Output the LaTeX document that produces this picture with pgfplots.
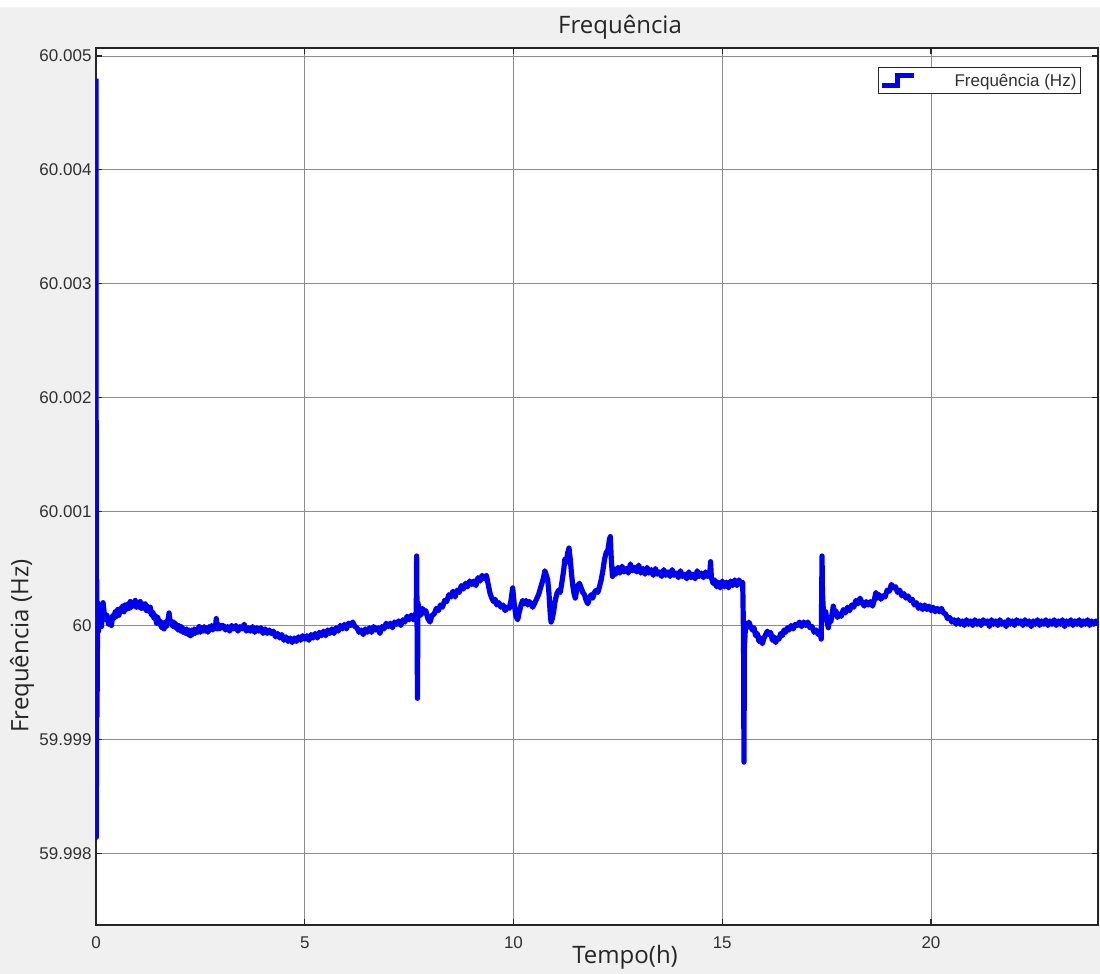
\documentclass[border=0pt]{standalone}
\usepackage{fontspec}
\setmainfont{Liberation Sans}
\newfontfamily\labelfont{Open Sans}
\usepackage{pgfplots}
\pgfplotsset{compat=1.18}

\definecolor{figbg}{HTML}{F0F0F0}
\definecolor{ticktext}{HTML}{303030}
\definecolor{gridgray}{HTML}{8C8C8C}
\definecolor{framecol}{HTML}{262626}
\definecolor{tracecol}{RGB}{0,0,240}

\begin{document}
\begin{tikzpicture}[x=1pt,y=1pt]
\useasboundingbox (0,0) rectangle (1100,974);
\fill[figbg] (0,0) rectangle (1100,974);
\fill[white] (0,967) rectangle (1100,974);
\begin{axis}[
  at={(96pt,49pt)}, anchor=south west,
  width=1002pt, height=877pt, scale only axis,
  xmin=0, xmax=24, ymin=-2.63, ymax=5.07,
  xtick={0,5,10,15,20},
  ytick={-2,-1,0,1,2,3,4,5},
  yticklabels={59.998,59.999,60,60.001,60.002,60.003,60.004,60.005},
  /pgf/number format/assume math mode=true,
  grid=major,
  major grid style={gridgray, line width=0.9pt},
  axis line style={framecol, line width=1.6pt},
  tick style={framecol, line width=1.2pt},
  tick align=inside, major tick length=6pt,
  axis background/.style={fill=white},
  tick label style={font=\fontsize{17}{19}\selectfont, text=ticktext},
  xticklabel style={yshift=-8pt},
  yticklabel style={xshift=-1pt},
  title={\labelfont Frequência},
  title style={at={(axis description cs:0.523,1.017)}, anchor=center,
    font=\fontsize{24}{28}\selectfont, text=framecol},
  xlabel={\labelfont Tempo(h)},
  xlabel style={at={(axis description cs:0.528,-0.037)}, anchor=center,
    font=\fontsize{24}{28}\selectfont, text=framecol},
  ylabel={\labelfont Frequência (Hz)},
  ylabel style={at={(axis description cs:-0.0739,0.318)}, anchor=center,
    font=\fontsize{24}{28}\selectfont, text=framecol},
  legend style={at={(0.983,0.978)}, anchor=north east, draw=framecol,
    line width=1pt, fill=white, font=\fontsize{17}{19}\selectfont,
    text=ticktext, inner xsep=2pt, inner ysep=4pt, nodes={inner sep=2pt}},
  legend cell align=left,
  legend image code/.code={
    \draw[tracecol, line width=4.5pt, line join=miter]
      (0pt,-5pt) -- (15pt,-5pt) -- (15pt,5pt) -- (32pt,5pt);},
]
% Frequency over one day: time in hours, deviation from 60 Hz in mHz
\addplot[tracecol, line width=5.2pt, line join=round] coordinates {
(0.000,4.80) (0.008,-1.86) (0.016,0.40) (0.024,-0.80) (0.040,0.20) (0.060,-0.05) (0.080,0.10)
(0.10,0.05) (0.13,-0.01) (0.17,0.20) (0.20,0.10) (0.23,0.05) (0.26,0.09) (0.30,0.01) (0.34,0.04)
(0.37,0.00) (0.40,0.09) (0.43,0.06) (0.46,0.12) (0.49,0.08) (0.52,0.14) (0.55,0.09) (0.58,0.15)
(0.61,0.12) (0.64,0.17) (0.67,0.12) (0.70,0.18) (0.73,0.14) (0.76,0.19) (0.79,0.15) (0.82,0.21)
(0.85,0.16) (0.88,0.20) (0.91,0.17) (0.94,0.22) (0.97,0.16) (1.00,0.20) (1.03,0.16) (1.06,0.21)
(1.09,0.15) (1.12,0.19) (1.15,0.15) (1.18,0.19) (1.21,0.13) (1.24,0.17) (1.27,0.12) (1.30,0.16)
(1.33,0.09) (1.36,0.12) (1.39,0.06) (1.42,0.09) (1.45,0.02) (1.48,0.07) (1.51,0.01) (1.54,0.04)
(1.57,-0.02) (1.60,0.01) (1.63,-0.03) (1.66,0.03) (1.69,-0.01) (1.72,0.04) (1.75,0.11) (1.78,0.02)
(1.81,0.04) (1.84,-0.01) (1.87,0.03) (1.90,-0.02) (1.93,0.01) (1.96,-0.04) (1.99,0.00) (2.02,-0.05)
(2.05,-0.01) (2.08,-0.06) (2.11,-0.03) (2.14,-0.07) (2.17,-0.03) (2.20,-0.08) (2.23,-0.04) (2.26,-0.09)
(2.29,-0.04) (2.32,-0.08) (2.35,-0.03) (2.38,-0.07) (2.41,-0.03) (2.44,-0.06) (2.47,-0.01) (2.50,-0.06)
(2.53,-0.02) (2.56,-0.05) (2.59,-0.01) (2.62,-0.05) (2.65,-0.02) (2.68,-0.06) (2.71,-0.01) (2.74,-0.04)
(2.77,0.00) (2.80,-0.04) (2.83,0.00) (2.86,-0.02) (2.88,0.06) (2.91,-0.03) (2.94,0.01) (2.97,-0.03)
(3.00,0.00) (3.05,0.00) (3.10,-0.04) (3.15,-0.01) (3.20,-0.05) (3.25,0.00) (3.30,-0.03) (3.35,0.00)
(3.40,-0.05) (3.45,-0.01) (3.50,-0.03) (3.55,0.01) (3.60,-0.05) (3.65,-0.02) (3.70,-0.05) (3.75,-0.01)
(3.80,-0.06) (3.85,-0.02) (3.90,-0.05) (3.95,-0.02) (4.00,-0.07) (4.05,-0.03) (4.10,-0.07) (4.15,-0.04)
(4.20,-0.07) (4.25,-0.05) (4.30,-0.10) (4.35,-0.07) (4.40,-0.11) (4.45,-0.08) (4.50,-0.13) (4.55,-0.10)
(4.60,-0.14) (4.65,-0.11) (4.70,-0.15) (4.75,-0.11) (4.80,-0.14) (4.85,-0.10) (4.90,-0.13) (4.95,-0.09)
(5.00,-0.12) (5.05,-0.09) (5.10,-0.13) (5.15,-0.08) (5.20,-0.11) (5.25,-0.07) (5.30,-0.11) (5.35,-0.06)
(5.40,-0.09) (5.45,-0.05) (5.50,-0.09) (5.55,-0.04) (5.60,-0.07) (5.65,-0.03) (5.70,-0.07) (5.75,-0.02)
(5.80,-0.05) (5.85,0.00) (5.90,-0.03) (5.95,0.01) (6.00,-0.03) (6.05,0.02) (6.10,0.00) (6.15,0.03)
(6.20,-0.01) (6.25,-0.02) (6.30,-0.06) (6.35,-0.04) (6.40,-0.08) (6.45,-0.03) (6.50,-0.06) (6.55,-0.02)
(6.60,-0.06) (6.65,-0.01) (6.70,-0.04) (6.75,-0.02) (6.80,-0.07) (6.85,-0.01) (6.90,-0.03) (6.95,0.02)
(7.00,-0.01) (7.05,0.02) (7.10,-0.02) (7.15,0.03) (7.20,0.01) (7.25,0.04) (7.30,0.00) (7.35,0.05)
(7.40,0.03) (7.45,0.08) (7.50,0.05) (7.55,0.09) (7.60,0.05) (7.64,0.10) (7.67,0.08) (7.68,0.61)
(7.69,0.05) (7.70,-0.64) (7.71,0.20) (7.74,0.13) (7.78,0.09) (7.82,0.15) (7.86,0.11) (7.90,0.13)
(7.95,0.06) (8.00,0.03) (8.05,0.09) (8.10,0.10) (8.15,0.15) (8.20,0.13) (8.25,0.18) (8.30,0.16)
(8.35,0.22) (8.40,0.21) (8.45,0.27) (8.50,0.25) (8.55,0.30) (8.60,0.25) (8.65,0.31) (8.70,0.29)
(8.75,0.35) (8.80,0.32) (8.85,0.37) (8.90,0.34) (8.95,0.39) (9.00,0.36) (9.05,0.39) (9.10,0.35)
(9.15,0.42) (9.20,0.39) (9.25,0.44) (9.30,0.41) (9.35,0.44) (9.40,0.35) (9.44,0.28) (9.48,0.24)
(9.52,0.21) (9.56,0.23) (9.60,0.18) (9.65,0.20) (9.70,0.16) (9.75,0.18) (9.80,0.13) (9.85,0.16)
(9.90,0.15) (9.94,0.22) (9.98,0.33) (10.02,0.18) (10.06,0.08) (10.10,0.05) (10.14,0.12) (10.18,0.18)
(10.22,0.22) (10.26,0.19) (10.30,0.22) (10.34,0.18) (10.38,0.21) (10.42,0.19) (10.46,0.16) (10.50,0.19)
(10.55,0.23) (10.60,0.27) (10.64,0.32) (10.68,0.37) (10.72,0.42) (10.75,0.48) (10.78,0.45) (10.82,0.40)
(10.85,0.28) (10.88,0.10) (10.90,0.03) (10.93,0.06) (10.96,0.12) (11.00,0.22) (11.04,0.28) (11.08,0.31)
(11.12,0.29) (11.16,0.38) (11.20,0.48) (11.23,0.58) (11.26,0.55) (11.30,0.64) (11.33,0.68) (11.36,0.58)
(11.39,0.45) (11.42,0.35) (11.45,0.28) (11.48,0.24) (11.51,0.30) (11.54,0.35) (11.58,0.37) (11.62,0.33)
(11.66,0.29) (11.70,0.27) (11.74,0.22) (11.78,0.19) (11.82,0.24) (11.86,0.27) (11.90,0.24) (11.94,0.29)
(11.98,0.31) (12.02,0.29) (12.06,0.34) (12.10,0.40) (12.14,0.48) (12.18,0.58) (12.22,0.64) (12.26,0.66)
(12.30,0.76) (12.32,0.78) (12.34,0.60) (12.37,0.43) (12.40,0.50) (12.45,0.45) (12.50,0.51) (12.55,0.46)
(12.60,0.52) (12.65,0.47) (12.70,0.50) (12.75,0.46) (12.80,0.54) (12.85,0.48) (12.90,0.51) (12.95,0.47)
(13.00,0.53) (13.05,0.46) (13.10,0.50) (13.15,0.45) (13.20,0.51) (13.25,0.46) (13.30,0.49) (13.35,0.44)
(13.40,0.50) (13.45,0.45) (13.50,0.47) (13.55,0.43) (13.60,0.49) (13.65,0.44) (13.70,0.47) (13.75,0.43)
(13.80,0.49) (13.85,0.44) (13.90,0.46) (13.95,0.42) (14.00,0.48) (14.05,0.43) (14.10,0.45) (14.15,0.41)
(14.20,0.47) (14.25,0.42) (14.30,0.45) (14.35,0.41) (14.40,0.48) (14.45,0.43) (14.50,0.46) (14.55,0.42)
(14.60,0.47) (14.65,0.43) (14.70,0.45) (14.72,0.56) (14.74,0.42) (14.78,0.37) (14.82,0.40) (14.86,0.34)
(14.90,0.38) (14.95,0.33) (15.00,0.39) (15.05,0.34) (15.10,0.38) (15.15,0.33) (15.20,0.39) (15.25,0.35)
(15.30,0.40) (15.35,0.35) (15.40,0.40) (15.45,0.36) (15.49,0.38) (15.51,-0.10) (15.52,-1.20) (15.53,-0.20)
(15.56,0.02) (15.60,-0.02) (15.64,0.03) (15.68,-0.01) (15.72,-0.04) (15.76,-0.02) (15.80,-0.09) (15.84,-0.07)
(15.88,-0.14) (15.92,-0.11) (15.96,-0.16) (16.00,-0.11) (16.04,-0.08) (16.08,-0.05) (16.12,-0.08) (16.16,-0.06)
(16.20,-0.13) (16.24,-0.10) (16.28,-0.15) (16.32,-0.11) (16.36,-0.12) (16.40,-0.07) (16.44,-0.09) (16.48,-0.04)
(16.52,-0.06) (16.56,-0.02) (16.60,-0.04) (16.65,0.00) (16.70,-0.03) (16.75,0.01) (16.80,0.00) (16.85,0.03)
(16.90,-0.01) (16.95,0.03) (17.00,0.00) (17.05,0.03) (17.10,-0.02) (17.15,-0.01) (17.20,-0.06) (17.25,-0.04)
(17.30,-0.08) (17.34,-0.05) (17.37,-0.12) (17.38,0.20) (17.39,0.61) (17.40,0.30) (17.42,0.14) (17.45,0.07)
(17.48,0.12) (17.51,0.03) (17.54,-0.02) (17.57,0.06) (17.60,0.03) (17.63,0.10) (17.66,0.17) (17.69,0.10)
(17.72,0.13) (17.76,0.07) (17.80,0.10) (17.85,0.08) (17.90,0.14) (17.95,0.11) (18.00,0.16) (18.05,0.13)
(18.10,0.18) (18.15,0.16) (18.20,0.22) (18.25,0.19) (18.30,0.24) (18.35,0.20) (18.40,0.17) (18.45,0.21)
(18.50,0.18) (18.55,0.21) (18.60,0.17) (18.64,0.22) (18.68,0.29) (18.72,0.24) (18.76,0.27) (18.80,0.23)
(18.85,0.26) (18.90,0.25) (18.95,0.31) (19.00,0.30) (19.05,0.36) (19.10,0.33) (19.15,0.34) (19.20,0.29)
(19.25,0.31) (19.30,0.26) (19.35,0.28) (19.40,0.24) (19.45,0.26) (19.50,0.22) (19.55,0.23) (19.60,0.18)
(19.65,0.20) (19.70,0.15) (19.75,0.18) (19.80,0.14) (19.85,0.18) (19.90,0.14) (19.95,0.17) (20.00,0.13)
(20.05,0.16) (20.10,0.12) (20.15,0.15) (20.20,0.12) (20.25,0.15) (20.30,0.11) (20.35,0.10) (20.40,0.06)
(20.45,0.07) (20.50,0.03) (20.55,0.05) (20.60,0.01) (20.65,0.05) (20.70,0.01) (20.75,0.04) (20.80,0.00)
(20.85,0.05) (20.90,0.01) (20.95,0.04) (21.00,0.00) (21.05,0.05) (21.10,0.01) (21.15,0.04) (21.20,0.00)
(21.25,0.05) (21.30,0.02) (21.35,0.04) (21.40,-0.01) (21.45,0.05) (21.50,0.01) (21.55,0.04) (21.60,0.00)
(21.65,0.05) (21.70,0.01) (21.75,0.03) (21.80,-0.01) (21.85,0.05) (21.90,0.01) (21.95,0.04) (22.00,0.00)
(22.05,0.05) (22.10,0.02) (22.15,0.04) (22.20,0.00) (22.25,0.05) (22.30,0.01) (22.35,0.04) (22.40,-0.01)
(22.45,0.04) (22.50,0.01) (22.55,0.05) (22.60,0.00) (22.65,0.04) (22.70,0.01) (22.75,0.05) (22.80,0.00)
(22.85,0.04) (22.90,0.01) (22.95,0.05) (23.00,0.00) (23.05,0.04) (23.10,0.01) (23.15,0.05) (23.20,-0.01)
(23.25,0.04) (23.30,0.01) (23.35,0.05) (23.40,0.00) (23.45,0.04) (23.50,0.01) (23.55,0.05) (23.60,0.00)
(23.65,0.04) (23.70,0.01) (23.75,0.05) (23.80,0.00) (23.85,0.04) (23.90,0.01) (23.95,0.04) (24.00,0.01)
};
\addlegendentry{\hspace{36pt}Frequência (Hz)}
\end{axis}
\end{tikzpicture}
\end{document}
